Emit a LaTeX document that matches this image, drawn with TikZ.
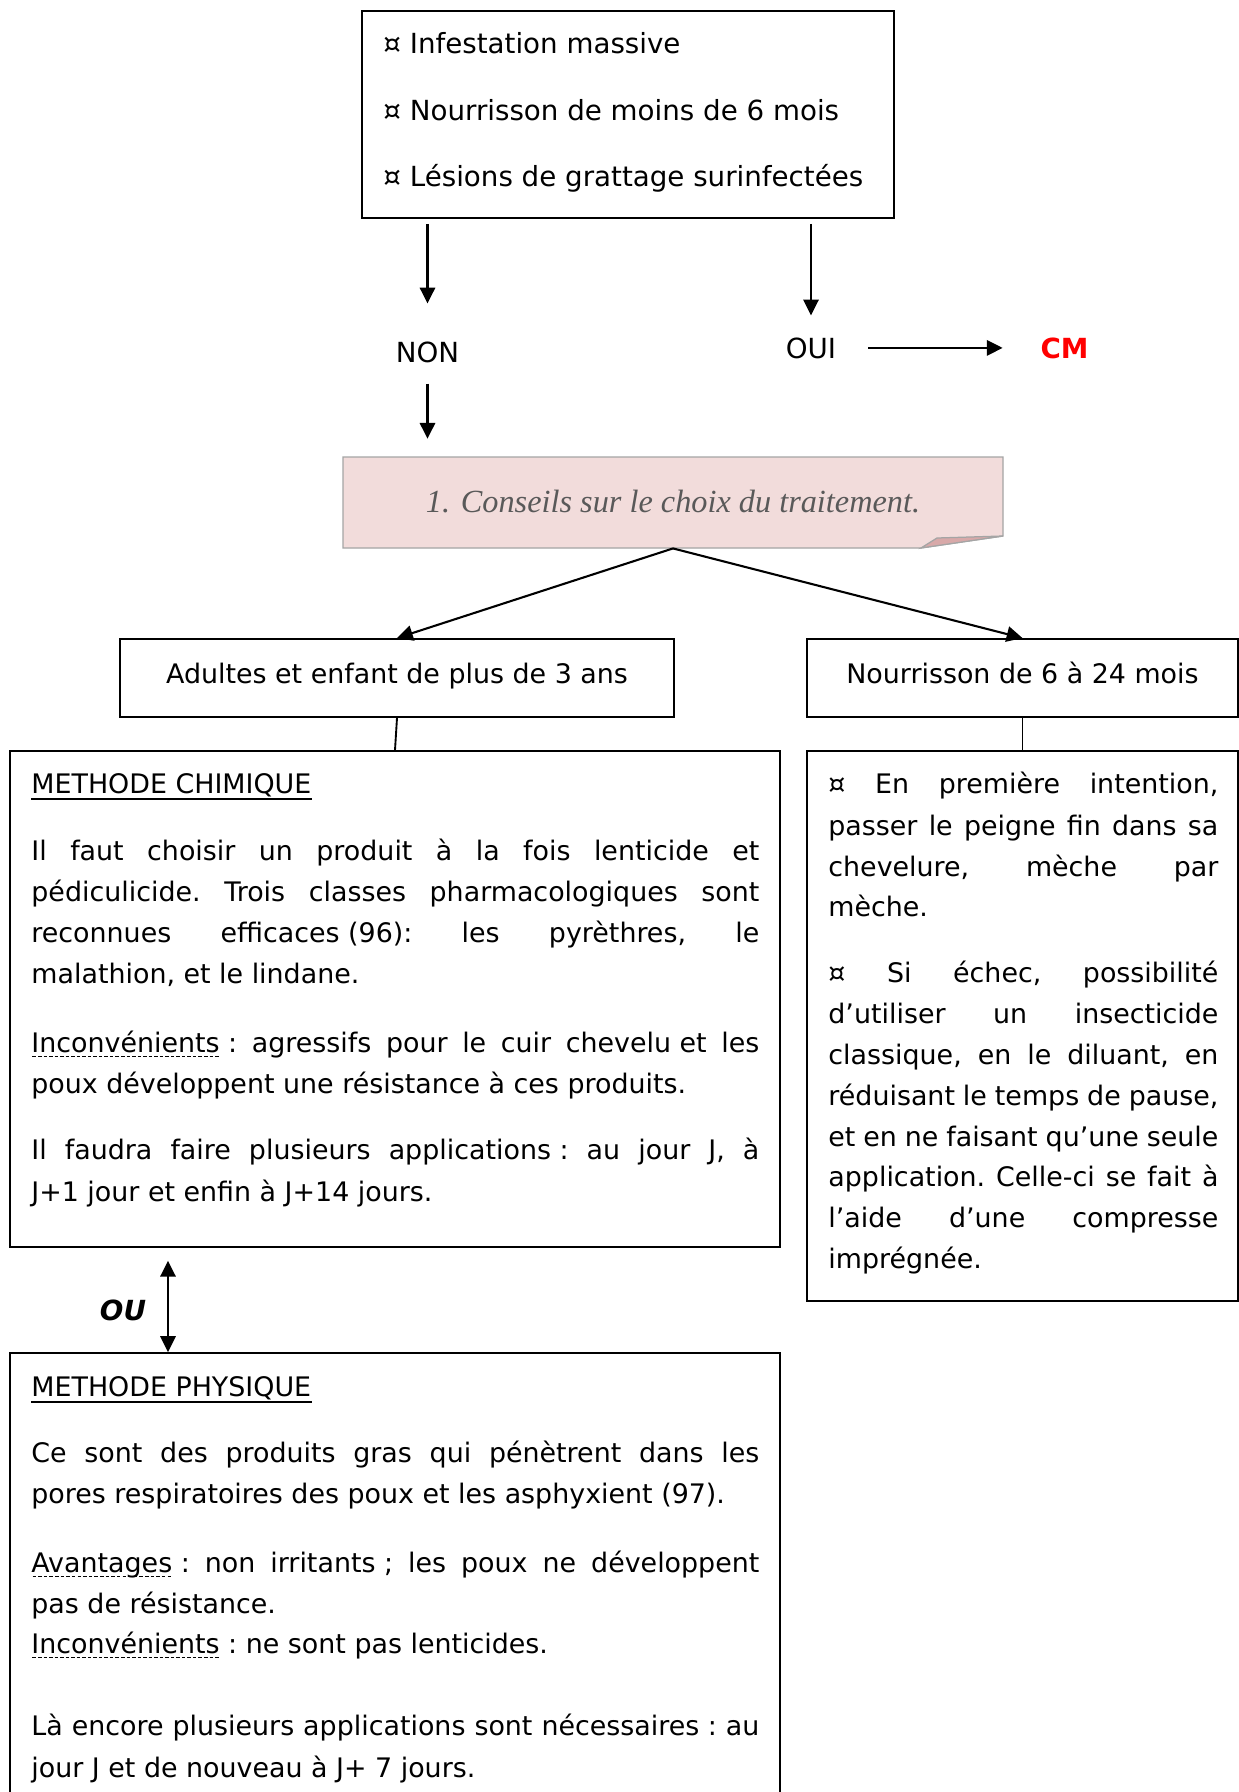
\documentclass[tikz,border=0pt]{standalone}
\usepackage{fontspec}
\setmainfont{DejaVu Sans}
\newfontfamily\conseilfont{Liberation Serif}
\usetikzlibrary{arrows.meta}
\definecolor{pinkfill}{HTML}{F2DCDB}
\definecolor{pinkfold}{HTML}{D8A9A9}
\definecolor{pinkedge}{HTML}{A5A5A5}
\definecolor{conseilgray}{HTML}{595959}
\definecolor{cmred}{HTML}{FF0000}
\newcommand\bodyfont{\fontsize{12.9pt}{15.5pt}\selectfont\frenchspacing}
\newcommand\topfont{\fontsize{13.3pt}{16pt}\selectfont}
\newcommand\fsp{\hspace{0.318em}}
\newcommand\jL[1]{\makebox[349.4pt][s]{#1}}
\newcommand\jR[1]{\makebox[187.2pt][s]{#1}}
\newcommand\dul[1]{\setbox0=\hbox{#1}\rlap{\raisebox{-2.6pt}{\hbox to \wd0{\xleaders\hbox to 2.6pt{\hss\rule{1.7pt}{0.5pt}\hss}\hfill}}}\box0}
\begin{document}
\begin{tikzpicture}[x=0.48pt,y=-0.48pt,
  bx/.style={draw, line width=0.9pt, inner sep=0pt},
  sz/.style 2 args={minimum width={#1*0.48pt}, minimum height={#2*0.48pt}},
  ln/.style={anchor=base west, inner sep=0pt, font=\bodyfont},
  lbl/.style={anchor=base, inner sep=0pt, font=\topfont},
  arr/.style={line width=1pt, -{Triangle[length=7.6pt,width=7.4pt]}},
  arrb/.style={line width=1pt, {Triangle[length=7.6pt,width=7.4pt]}-{Triangle[length=7.6pt,width=7.4pt]}},
  uline/.style={line width=0.9pt}
]
\useasboundingbox (0,0) rectangle (1239,1792);
\fill[white] (0,0) rectangle (1239,1792);

% ---------- top box
\node[bx, sz={532}{207}] (top) at (628,114.5) {};
\node[ln, font=\topfont] (t1) at (383,53) {¤ Infestation massive};
\node[ln, font=\topfont] (t2) at (383,120) {¤ Nourrisson de moins de 6 mois};
\node[ln, font=\topfont] (t3) at (383,186) {¤ Lésions de grattage surinfectées};

% ---------- NON / OUI / CM
\node[lbl] (non) at (427.5,362.5) {NON};
\node[lbl] (oui) at (811,358) {OUI};
\node[lbl, font=\topfont\bfseries, text=cmred] (cm) at (1064.5,358) {CM};

\draw[arr, shorten <=2.4pt, shorten >=18.3pt] (top.south -| non) -- (non.north);
\draw[arr, shorten <=2.4pt, shorten >=10.4pt] (top.south -| oui) -- (oui.north);
\draw[arr] ([xshift=27.4pt]oui.center) -- ([xshift=-29.7pt]cm.center);

% ---------- conseil box
\node[inner sep=0pt, sz={660}{91}] (conseil) at (673,502.5) {};
\fill[pinkfill] (343,457) -- (1003,457) -- (1003,536) -- (921,548) -- (343,548) -- cycle;
\draw[pinkedge, line width=0.6pt] (343,457) -- (1003,457) -- (1003,536) -- (921,548) -- (343,548) -- cycle;
\filldraw[fill=pinkfold, draw=pinkedge, line width=0.6pt] (921,548) -- (937,538) -- (1003,536) -- cycle;
\node[anchor=base, inner sep=0pt, font=\conseilfont\itshape\fontsize{15.5pt}{18pt}\selectfont, text=conseilgray] (conseiltxt) at (673,512) {1. Conseils sur le choix du traitement.};

\draw[arr, shorten <=9.7pt, shorten >=8.6pt] (non.south) -- (non.south |- conseil.north);

% ---------- second level
\node[bx, sz={554}{78}, font=\bodyfont, text height=0.76em, text depth=0.24em] (adult) at (397,678) {Adultes et enfant de plus de 3 ans};
\node[bx, sz={431}{78}, font=\bodyfont, text height=0.76em, text depth=0.24em] (nour) at (1022.5,678) {Nourrisson de 6 à 24 mois};
\draw[arr] (conseil.south) -- (adult.north);
\draw[arr] (conseil.south) -- (nour.north);

% ---------- METHODE CHIMIQUE
\node[bx, sz={770}{496}] (chim) at (395,999) {};
\draw[line width=0.9pt] (adult.south) -- (chim.north);
\node[ln] (c0) at (31,793) {METHODE CHIMIQUE};
\draw[uline] ([yshift=-2.9pt]c0.base west) -- ([yshift=-2.9pt]c0.base east);
\node[ln] (c1) at (31,860) {\jL{Il faut choisir un produit à la fois lenticide et}};
\node[ln] (c2) at (31,901) {\jL{pédiculicide. Trois classes pharmacologiques sont}};
\node[ln] (c3) at (31,942) {\jL{reconnues efficaces\fsp(96): les pyrèthres, le}};
\node[ln] (c4) at (31,983) {malathion, et le lindane.};
\node[ln] (c5) at (31,1052) {\jL{\dul{Inconvénients}\fsp: agressifs pour le cuir chevelu\fsp et les}};
\node[ln] (c6) at (31,1093) {poux développent une résistance à ces produits.};
\node[ln] (c7) at (31,1159) {\jL{Il faudra faire plusieurs applications\fsp: au jour J, à}};
\node[ln] (c8) at (31,1201) {J+1 jour et enfin à J+14 jours.};

% ---------- right box
\node[bx, sz={431}{550}] (droite) at (1022.5,1026) {};
\draw[line width=0.9pt] (nour.south) -- (droite.north);
\node[ln] (r1) at (828,793) {\jR{¤ En première intention,}};
\node[ln] (r2) at (828,835) {\jR{passer le peigne fin dans sa}};
\node[ln] (r3) at (828,876) {\jR{chevelure, mèche par}};
\node[ln] (r4) at (828,916) {mèche.};
\node[ln] (r5) at (828,982) {\jR{¤ Si échec, possibilité}};
\node[ln] (r6) at (828,1023) {\jR{d’utiliser un insecticide}};
\node[ln] (r7) at (828,1064) {\jR{classique, en le diluant, en}};
\node[ln] (r8) at (828,1105) {\jR{réduisant le temps de pause,}};
\node[ln] (r9) at (828,1146) {\jR{et en ne faisant qu’une seule}};
\node[ln] (r10) at (828,1186) {\jR{application. Celle-ci se fait à}};
\node[ln] (r11) at (828,1227) {\jR{l’aide d’une compresse}};
\node[ln] (r12) at (828,1268) {imprégnée.};

% ---------- OU
\node[inner sep=0pt, font=\fontsize{13.3pt}{15pt}\selectfont\bfseries\itshape] (ou) at (123,1310) {OU};
\coordinate (oux) at (168,0);

% ---------- METHODE PHYSIQUE
\node[bx, sz={770}{500}] (phys) at (395,1603) {};
\draw[arrb, shorten <=6.2pt] (chim.south -| oux) -- (phys.north -| oux);
\node[ln] (p0) at (31,1396) {METHODE PHYSIQUE};
\draw[uline] ([yshift=-2.9pt]p0.base west) -- ([yshift=-2.9pt]p0.base east);
\node[ln] (p1) at (31,1462) {\jL{Ce sont des produits gras qui pénètrent dans les}};
\node[ln] (p2) at (31,1503) {pores respiratoires des poux et les asphyxient (97).};
\node[ln] (p3) at (31,1572) {\jL{\dul{Avantages}\fsp: non irritants\fsp; les poux ne développent}};
\node[ln] (p4) at (31,1613) {pas de résistance.};
\node[ln] (p5) at (31,1653) {\dul{Inconvénients}\fsp: ne sont pas lenticides.};
\node[ln] (p6) at (31,1735) {\jL{Là encore plusieurs applications sont nécessaires\fsp: au}};
\node[ln] (p7) at (31,1777) {jour J et de nouveau à J+ 7 jours.};
\end{tikzpicture}
\end{document}
